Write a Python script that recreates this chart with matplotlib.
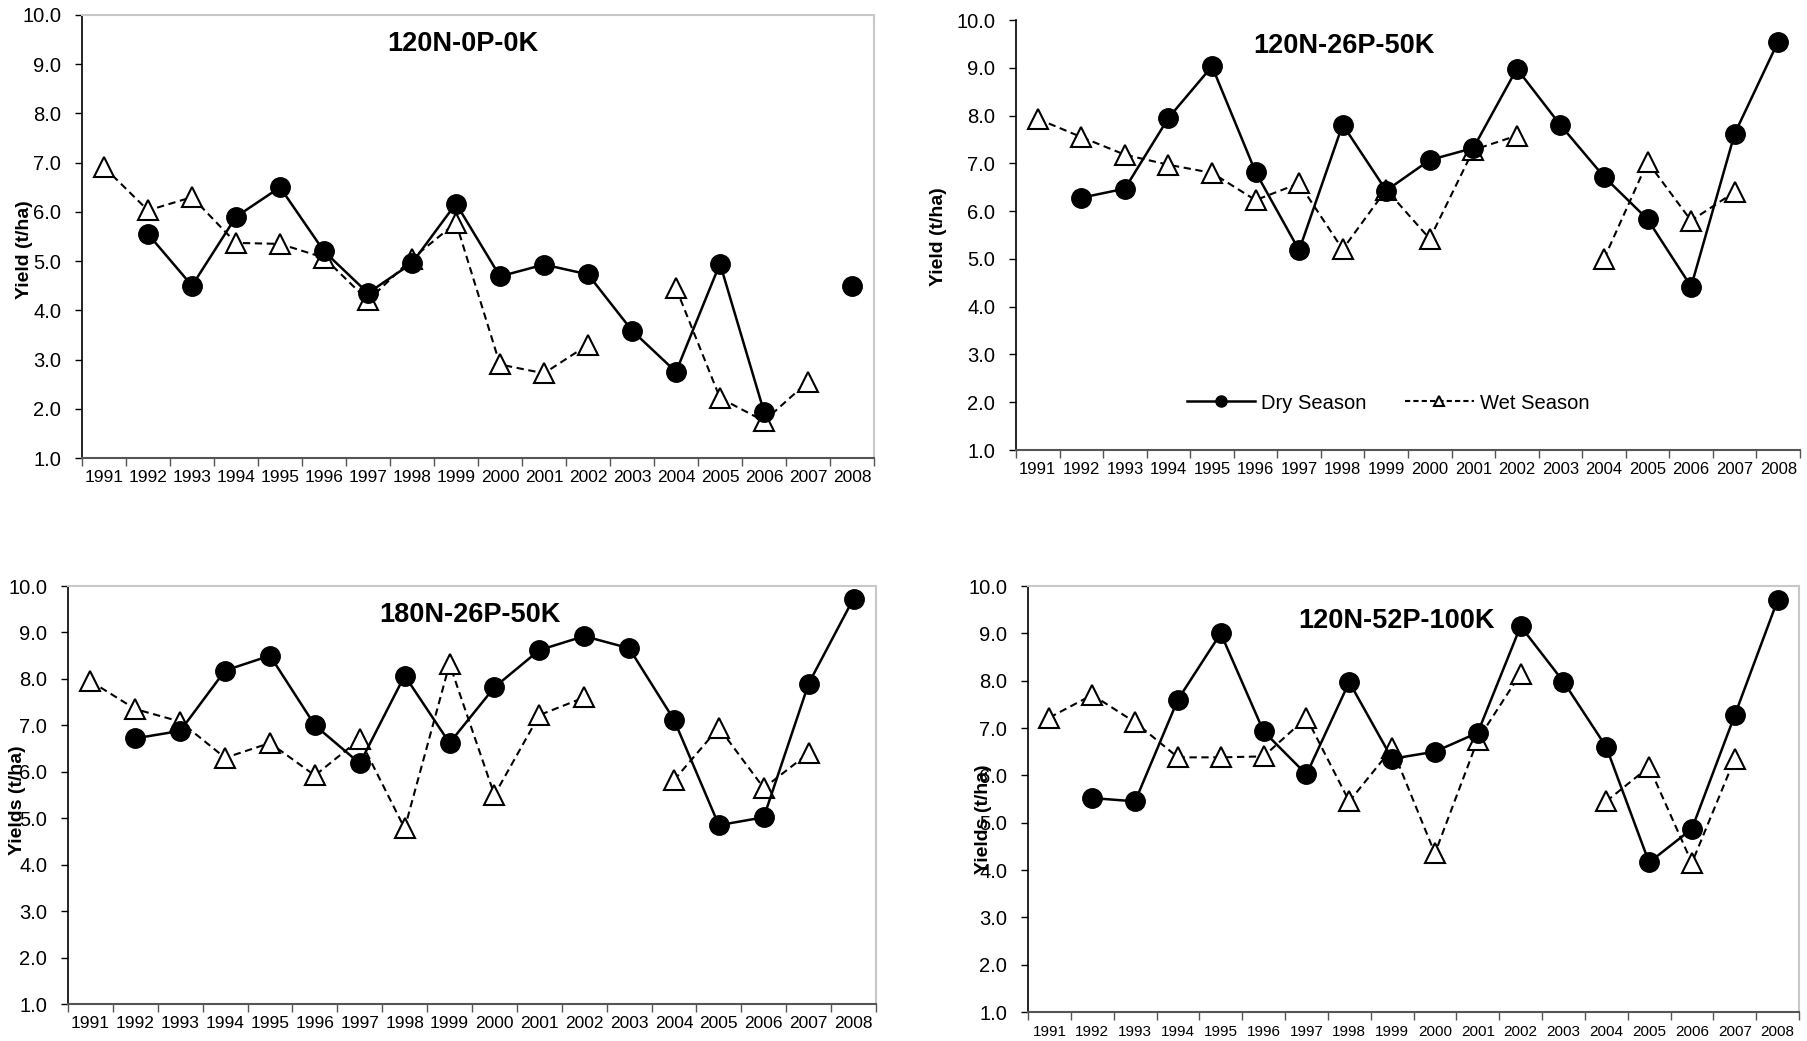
import numpy as np
import matplotlib
matplotlib.use('Agg')
import matplotlib.pyplot as plt
from matplotlib.lines import Line2D

plt.rcParams['font.family'] = ['Liberation Sans', 'DejaVu Sans']

nan = np.nan
years = [str(y) for y in range(1991, 2009)]

# yields (t/ha), one value per year 1991-2008, nan = no data
p1_dry = [nan, 5.55, 4.5, 5.9, 6.5, 5.2, 4.35, 4.96, 6.17, 4.69, 4.93, 4.73, 3.59, 2.75, 4.95, 1.94, nan, 4.5]
p1_wet = [6.91, 6.03, 6.3, 5.37, 5.35, 5.07, 4.2, 5.05, 5.78, 2.9, 2.72, 3.3, nan, 4.45, 2.22, 1.75, 2.55, nan]

p2_dry = [nan, 6.28, 6.47, 7.95, 9.03, 6.82, 5.18, 7.81, 6.43, 7.07, 7.32, 8.98, 7.8, 6.72, 5.83, 4.42, 7.62, 9.55]
p2_wet = [7.93, 7.55, 7.18, 6.97, 6.8, 6.23, 6.58, 5.2, 6.45, 5.42, 7.28, 7.58, nan, 5.0, 7.03, 5.8, 6.4, nan]

p3_dry = [nan, 6.72, 6.88, 8.18, 8.5, 7.0, 6.18, 8.07, 6.62, 7.82, 8.62, 8.92, 8.66, 7.12, 4.85, 5.02, 7.9, 9.73]
p3_wet = [7.95, 7.35, 7.08, 6.3, 6.62, 5.92, 6.7, 4.78, 8.32, 5.5, 7.22, 7.6, nan, 5.82, 6.95, 5.65, 6.4, nan]

p4_dry = [nan, 5.52, 5.45, 7.6, 9.0, 6.93, 6.02, 7.97, 6.35, 6.5, 6.9, 9.15, 7.98, 6.6, 4.16, 4.87, 7.27, 9.7]
p4_wet = [7.22, 7.7, 7.12, 6.38, 6.38, 6.4, 7.22, 5.45, 6.57, 4.35, 6.75, 8.15, nan, 5.45, 6.18, 4.15, 6.35, nan]

titles = ['120N-0P-0K', '120N-26P-50K', '180N-26P-50K', '120N-52P-100K']
ylabels = ['Yield (t/ha)', 'Yield (t/ha)', 'Yields (t/ha)', 'Yields (t/ha)']

W, H = 1808, 1041
fig = plt.figure(figsize=(W / 100, H / 100), dpi=100)

# pixel boxes: left, right, top, bottom / title x, title baseline / ylabel x, y / x label size / gray frame
panels = [
    dict(box=(82, 874, 15, 458), title=(463, 51), ylab=(25, 250), xfs=12.5, frame=True),
    dict(box=(1016, 1800, 20, 450), title=(1344, 53), ylab=(939, 237), xfs=12, frame=False),
    dict(box=(68, 876, 586, 1004), title=(470, 622), ylab=(18, 800), xfs=12.5, frame=True),
    dict(box=(1028, 1799, 586, 1012), title=(1396, 628), ylab=(983, 819), xfs=11, frame=True),
]
series = [(p1_dry, p1_wet), (p2_dry, p2_wet), (p3_dry, p3_wet), (p4_dry, p4_wet)]

x = np.arange(len(years))
wet_dash = (0, (3.5, 2.2))

for i, p in enumerate(panels):
    l, r, t, b = p['box']
    ax = fig.add_axes([l / W, 1 - b / H, (r - l) / W, (b - t) / H])
    dry, wet = series[i]

    ax.plot(x, wet, color='black', lw=1.5, ls=wet_dash, marker='^', ms=15,
            mfc='white', mec='black', mew=1.5, zorder=2)
    ax.plot(x, dry, color='black', lw=1.8, ls='-', marker='o', ms=14,
            mfc='black', mec='black', zorder=3)

    ax.set_xlim(-0.5, len(years) - 0.5)
    ax.set_ylim(1.0, 10.0)
    ax.set_yticks(np.arange(1, 11))
    ax.set_yticklabels([f'{v:.1f}' for v in range(1, 11)])
    ax.tick_params(axis='y', direction='out', length=5, width=1, pad=10, labelsize=14.5)

    ax.set_xticks(np.arange(-0.5, len(years)), minor=False)
    ax.set_xticklabels([])
    ax.set_xticks(x, minor=True)
    ax.set_xticklabels(years, minor=True)
    ax.tick_params(axis='x', which='major', direction='out', length=6, width=1, color='#555555')
    ax.tick_params(axis='x', which='minor', length=0, pad=9, labelsize=p['xfs'])

    ax.spines['left'].set_color('black')
    ax.spines['left'].set_linewidth(1.2)
    ax.spines['bottom'].set_color('#555555')
    ax.spines['bottom'].set_linewidth(1.5)
    for s in ['top', 'right']:
        if p['frame']:
            ax.spines[s].set_color('#c8c8c8')
            ax.spines[s].set_linewidth(1.5)
        else:
            ax.spines[s].set_visible(False)

    tx, ty = p['title']
    fig.text(tx / W, 1 - ty / H, titles[i], fontsize=19.5, fontweight='bold',
             ha='center', va='baseline')
    lx, ly = p['ylab']
    fig.text(lx / W, 1 - ly / H, ylabels[i], fontsize=14, fontweight='bold',
             rotation=90, ha='center', va='center')

# legend lives in the top-right panel
handles = [
    Line2D([], [], color='black', lw=1.8, marker='o', ms=8, mfc='black', mec='black'),
    Line2D([], [], color='black', lw=1.5, ls=(0, (2.5, 1.5)), marker='^', ms=7,
           mfc='white', mec='black', mew=1.5),
]
fig.legend(handles, ['Dry Season', 'Wet Season'], loc='center', ncol=2, frameon=False,
           fontsize=14.5, handlelength=3.4, handletextpad=0.3, columnspacing=1.9,
           bbox_to_anchor=(1388 / W, 1 - 403 / H))

fig.savefig('out.png', dpi=100)
